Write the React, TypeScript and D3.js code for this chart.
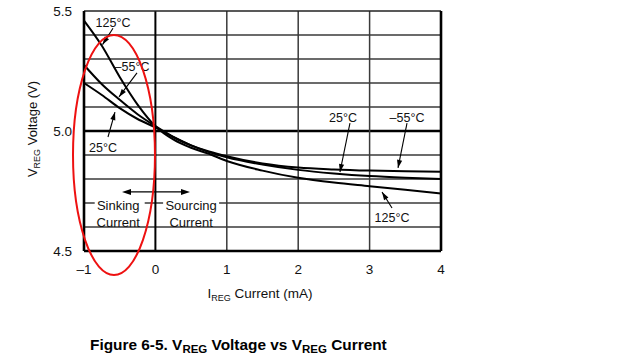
import React from "react";
import * as d3 from "d3";

const currents = [-1, -0.75, -0.5, -0.25, 0, 0.25, 0.5, 0.75, 1, 1.5, 2, 2.5, 3, 3.5, 4];
const v125 = [5.46, 5.355, 5.225, 5.11, 5.02, 4.965, 4.93, 4.905, 4.875, 4.835, 4.805, 4.785, 4.77, 4.755, 4.74];
const vm55 = [5.275, 5.195, 5.13, 5.07, 5.02, 4.975, 4.94, 4.915, 4.895, 4.865, 4.848, 4.84, 4.835, 4.832, 4.83];
const v25 = [5.2, 5.15, 5.095, 5.05, 5.015, 4.975, 4.94, 4.912, 4.89, 4.86, 4.838, 4.823, 4.812, 4.805, 4.8];

const xTicks = [-1, 0, 1, 2, 3, 4];
const xTickLabels = ["\u20131", "0", "1", "2", "3", "4"];
const yGrid = [4.6, 4.7, 4.8, 4.9, 5.0, 5.1, 5.2, 5.3, 5.4];
const yTicks = [4.5, 5.0, 5.5];
const yTickLabels = ["4.5", "5.0", "5.5"];

// annotations: [label, textX, textV, fromX, fromV, tipX, tipV]
const tempNotes: [string, number, number, number, number, number, number][] = [
  ["125\u00b0C", -0.594, 5.454, -0.594, 5.428, -0.74, 5.36],
  ["\u201355\u00b0C", -0.328, 5.267, -0.258, 5.242, -0.51, 5.142],
  ["25\u00b0C", -0.734, 4.933, -0.664, 4.975, -0.566, 5.079],
  ["25\u00b0C", 2.627, 5.058, 2.725, 5.033, 2.585, 4.829],
  ["\u201355\u00b0C", 3.524, 5.058, 3.524, 5.033, 3.398, 4.846],
  ["125\u00b0C", 3.314, 4.638, 3.314, 4.679, 3.174, 4.746],
];

const W = 640;
const H = 361;
const FONT = "'Liberation Sans', Arial, Helvetica, sans-serif";

export default function App() {
  const x = d3.scaleLinear().domain([-1, 4]).range([84, 441]);
  const y = d3.scaleLinear().domain([4.5, 5.5]).range([251, 11]);

  const line = d3
    .line<[number, number]>()
    .x((d) => x(d[0]))
    .y((d) => y(d[1]))
    .curve(d3.curveMonotoneX);

  const series = [v125, vm55, v25].map((vals) =>
    currents.map((c, i) => [c, vals[i]] as [number, number])
  );

  const arrowHead = (x1: number, y1: number, x2: number, y2: number, len = 7, w = 2.6) => {
    const dx = x2 - x1;
    const dy = y2 - y1;
    const L = Math.hypot(dx, dy);
    const ux = dx / L;
    const uy = dy / L;
    const bx = x2 - ux * len;
    const by = y2 - uy * len;
    return `M${x2},${y2}L${bx - uy * w},${by + ux * w}L${bx + uy * w},${by - ux * w}Z`;
  };

  const arrY = y(4.746);
  const arrL = x(-0.468);
  const arrR = x(0.485);

  return (
    <svg
      width={W}
      height={H}
      style={{ position: "absolute", left: 0, top: 0, background: "#fff" }}
      fontFamily={FONT}
    >
      <rect x={0} y={0} width={W} height={H} fill="#fff" />
      {/* horizontal grid */}
      {yGrid.map((v) => (
        <line
          key={"h" + v}
          x1={x(-1)}
          x2={x(4)}
          y1={y(v)}
          y2={y(v)}
          stroke={v === 5.0 ? "#000" : "#3a3a3a"}
          strokeWidth={v === 5.0 ? 2.4 : 1.3}
        />
      ))}
      {/* vertical grid */}
      {xTicks.slice(1, -1).map((t) => (
        <line
          key={"v" + t}
          x1={x(t)}
          x2={x(t)}
          y1={y(5.5)}
          y2={y(4.5)}
          stroke={t === 0 ? "#000" : "#3a3a3a"}
          strokeWidth={t === 0 ? 2 : 1.5}
        />
      ))}
      {/* frame */}
      <line x1={x(-1)} x2={x(4)} y1={y(5.5)} y2={y(5.5)} stroke="#222" strokeWidth={1.6} />
      <line x1={x(4)} x2={x(4)} y1={y(5.5)} y2={y(4.5)} stroke="#000" strokeWidth={2.6} />
      <line x1={x(-1)} x2={x(-1)} y1={y(5.5)} y2={y(4.5)} stroke="#000" strokeWidth={2.6} />
      <line x1={x(-1)} x2={x(4)} y1={y(4.5)} y2={y(4.5)} stroke="#000" strokeWidth={2.6} />

      {/* Sinking / Sourcing */}
      <rect x={x(-0.5) - 25} y={y(4.69) - 10} width={50} height={15} fill="#fff" />
      <rect x={x(0.5) - 28} y={y(4.69) - 10} width={56} height={15} fill="#fff" />
      <g fontSize={13} textAnchor="middle" fill="#111">
        <text x={x(-0.52)} y={y(4.69) + 4.5}>Sinking</text>
        <text x={x(-0.52)} y={y(4.62) + 4.5}>Current</text>
        <text x={x(0.5)} y={y(4.69) + 4.5}>Sourcing</text>
        <text x={x(0.5)} y={y(4.62) + 4.5}>Current</text>
      </g>
      <line x1={arrL + 5} x2={arrR - 5} y1={arrY} y2={arrY} stroke="#000" strokeWidth={1.2} />
      <path d={arrowHead(arrR - 10, arrY, arrL, arrY, 9, 3)} fill="#000" />
      <path d={arrowHead(arrL + 10, arrY, arrR, arrY, 9, 3)} fill="#000" />

      {/* curves */}
      {series.map((s, i) => (
        <path key={"s" + i} d={line(s) || ""} fill="none" stroke="#000" strokeWidth={2} />
      ))}

      {/* temperature annotations */}
      {tempNotes.map((n, i) => {
        const [label, tx, tv, fx, fv, px, pv] = n;
        const x1 = x(fx), y1 = y(fv), x2 = x(px), y2 = y(pv);
        return (
          <g key={"n" + i}>
            <line x1={x1} y1={y1} x2={x2} y2={y2} stroke="#000" strokeWidth={1.1} />
            <path d={arrowHead(x1, y1, x2, y2, 8, 2.6)} fill="#000" />
            <text x={x(tx)} y={y(tv) + 4.5} fontSize={12.5} textAnchor="middle" fill="#111">
              {label}
            </text>
          </g>
        );
      })}

      {/* red ellipse */}
      <ellipse
        cx={x(-0.58)}
        cy={y(4.9)}
        rx={x(-0.58) - x(-1.154)}
        ry={y(4.4) - y(4.9)}
        fill="none"
        stroke="#ee1111"
        strokeWidth={2}
      />

      {/* y tick labels */}
      <g fontSize={13.5} textAnchor="end" fill="#111">
        {yTicks.map((v, i) => (
          <text key={"yt" + v} x={72} y={y(v) + 5}>
            {yTickLabels[i]}
          </text>
        ))}
      </g>
      {/* x tick labels */}
      <g fontSize={13.5} textAnchor="middle" fill="#111">
        {xTicks.map((t, i) => (
          <text key={"xt" + t} x={x(t)} y={274}>
            {xTickLabels[i]}
          </text>
        ))}
      </g>

      {/* axis titles */}
      <text
        transform={`translate(37,${(y(5.5) + y(4.5)) / 2 - 2}) rotate(-90)`}
        textAnchor="middle"
        fontSize={13}
        fill="#111"
      >
        V<tspan fontSize={9} dy={3}>REG</tspan>
        <tspan dy={-3}> Voltage (V)</tspan>
      </text>
      <text x={260} y={298} textAnchor="middle" fontSize={13.5} fill="#111">
        I<tspan fontSize={9} dy={3}>REG</tspan>
        <tspan dy={-3}> Current (mA)</tspan>
      </text>

      {/* caption */}
      <text x={90} y={350} fontSize={15.4} fontWeight="bold" fill="#000">
        Figure 6-5. V<tspan fontSize={11.5} dy={3}>REG</tspan>
        <tspan dy={-3}> Voltage vs V</tspan>
        <tspan fontSize={11.5} dy={3}>REG</tspan>
        <tspan dy={-3}> Current</tspan>
      </text>
    </svg>
  );
}
